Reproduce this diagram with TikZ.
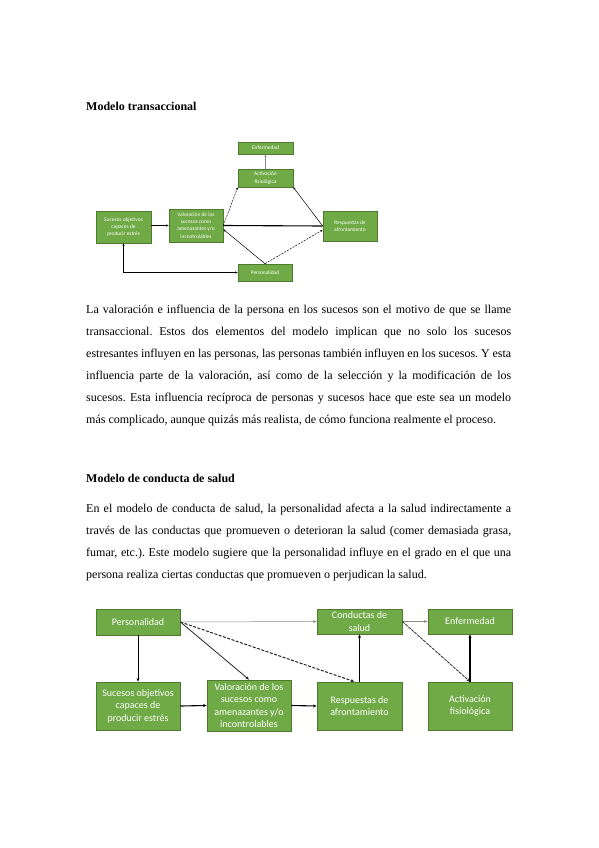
\documentclass[tikz,border=0pt]{standalone}
\usepackage{fontspec}
\setmainfont{Liberation Serif}
\newfontfamily\boxfont{Carlito}
\usetikzlibrary{arrows.meta}
\definecolor{gfill}{RGB}{112,170,70}
\definecolor{gdraw}{RGB}{78,122,48}
\tikzset{
  sbox/.style={draw=gdraw, fill=gfill, line width=0.6pt, text=white,
    font=\boxfont\fontsize{5.4}{7.2}\selectfont, align=center, inner sep=0pt},
  bbox/.style={draw=gdraw, fill=gfill, line width=0.8pt, text=white,
    font=\boxfont\fontsize{10}{12.4}\selectfont, align=center, inner sep=0pt},
  body/.style={anchor=base west, inner sep=0pt, font=\fontsize{12}{14}\selectfont},
  head/.style={anchor=base west, inner sep=0pt, font=\bfseries\fontsize{12}{14}\selectfont},
  arr/.style={-{Stealth[length=3.5pt,width=3pt]}},
  sarr/.style={-{Stealth[length=2.6pt,width=2.2pt]}},
  thin/.style={line width=0.5pt, black},
  thick/.style={line width=1.1pt, black},
  grey/.style={line width=0.5pt, black!45}
}
\frenchspacing
\begin{document}
\begin{tikzpicture}[x=1pt,y=-1pt]
\useasboundingbox (0,0) rectangle (599,848);
\fill[white] (0,0) rectangle (599,848);

% ---------- headings and text ----------
\node[head] (h1) at (86,111) {Modelo transaccional};

\node[body] (p1) at (86,313) {\makebox[425pt][s]{La valoración e influencia de la persona en los sucesos son el motivo de que se llame}};
\node[body] (p2) at (86,335) {\makebox[425pt][s]{transaccional. Estos dos elementos del modelo implican que no solo los sucesos}};
\node[body] (p3) at (86,357) {\makebox[425pt][s]{estresantes influyen en las personas, las personas también influyen en los sucesos. Y esta}};
\node[body] (p4) at (86,379) {\makebox[425pt][s]{influencia parte de la valoración, así como de la selección y la modificación de los}};
\node[body] (p5) at (86,401) {\makebox[425pt][s]{sucesos. Esta influencia recíproca de personas y sucesos hace que este sea un modelo}};
\node[body] (p6) at (86,423) {más complicado, aunque quizás más realista, de cómo funciona realmente el proceso.};

\node[head] (h2) at (86,482) {Modelo de conducta de salud};

\node[body] (q1) at (86,512) {\makebox[425pt][s]{En el modelo de conducta de salud, la personalidad afecta a la salud indirectamente a}};
\node[body] (q2) at (86,534) {\makebox[425pt][s]{través de las conductas que promueven o deterioran la salud (comer demasiada grasa,}};
\node[body] (q3) at (86,556) {\makebox[425pt][s]{fumar, etc.). Este modelo sugiere que la personalidad influye en el grado en el que una}};
\node[body] (q4) at (86,578) {persona realiza ciertas conductas que promueven o perjudican la salud.};

% ---------- top diagram ----------
\node[sbox, minimum width=55pt, minimum height=12pt] (tEnf) at (265.5,148) {Enfermedad};
\node[sbox, minimum width=55pt, minimum height=18pt] (tAct) at (265.5,178) {Activación\\fisiológica};
\node[sbox, minimum width=55pt, minimum height=32pt] (tSuc) at (123.5,227) {Sucesos objetivos\\capaces de\\producir estrés};
\node[sbox, minimum width=54pt, minimum height=33pt] (tVal) at (196,225.5) {Valoración de los\\sucesos como\\amenazantes y/o\\incontrolables};
\node[sbox, minimum width=54pt, minimum height=30pt] (tResp) at (350,226) {Respuestas de\\afrontamiento};
\node[sbox, minimum width=54pt, minimum height=17pt] (tPers) at (265,272.5) {Personalidad};

\draw[grey, sarr] (tAct.north) -- (tEnf.south);
\draw[thin, sarr, dashed, dash pattern=on 2pt off 1.2pt] (tVal.east) -- (tAct.south west);
\draw[thin, sarr] (tResp.west) -- (tAct.south east);
\draw[thick, sarr] (tSuc.east |- tVal.west) -- (tVal.west);
\draw[thick] (tVal.east) -- (tResp.west);
\draw[thin, sarr] (tPers.north) -- (tVal.-8);
\draw[thin, sarr, dashed, dash pattern=on 2pt off 1.2pt] (tPers.north) -- (tResp.188);
\draw[thin, {Stealth[length=2.6pt,width=2.2pt]}-{Stealth[length=2.6pt,width=2.2pt]}] (tSuc.south) |- (tPers.west);

% ---------- bottom diagram ----------
\node[bbox, minimum width=84pt, minimum height=26pt] (bPers) at (138,622) {Personalidad};
\node[bbox, minimum width=85pt, minimum height=25pt] (bCond) at (359.5,621.5) {Conductas de\\salud};
\node[bbox, minimum width=84pt, minimum height=25pt] (bEnf) at (470,621.5) {Enfermedad};
\node[bbox, minimum width=84pt, minimum height=48pt] (bSuc) at (138,706) {Sucesos objetivos\\capaces de\\producir estrés};
\node[bbox, minimum width=84pt, minimum height=51pt] (bVal) at (249,705.5) {Valoración de los\\sucesos como\\amenazantes y/o\\incontrolables};
\node[bbox, minimum width=85pt, minimum height=48pt] (bResp) at (359.5,706) {Respuestas de\\afrontamiento};
\node[bbox, minimum width=84pt, minimum height=48pt] (bAct) at (470,706) {Activación\\fisiológica};

\draw[grey, arr] (bPers.east) -- (bCond.west);
\draw[grey, arr] (bCond.east) -- (bEnf.west);
\draw[thin, arr] (bPers.south) -- (bSuc.north);
\draw[line width=0.8pt, black!85, arr] (bPers.east) -- (bVal.north);
\draw[line width=1pt, black!85, arr, dashed, dash pattern=on 3pt off 1.5pt] (bPers.east) -- (bResp.102);
\draw[thick, arr] (bResp.north) -- (bCond.south);
\draw[line width=0.8pt, black!85, arr, dashed, dash pattern=on 3pt off 1pt] (bCond.east) -- (bAct.north);
\draw[thick, arr] (bAct.north) -- (bEnf.south);
\draw[thick, arr] (bSuc.east) -- (bVal.west);
\draw[thick, arr] (bVal.east) -- (bResp.west);
\end{tikzpicture}
\end{document}
